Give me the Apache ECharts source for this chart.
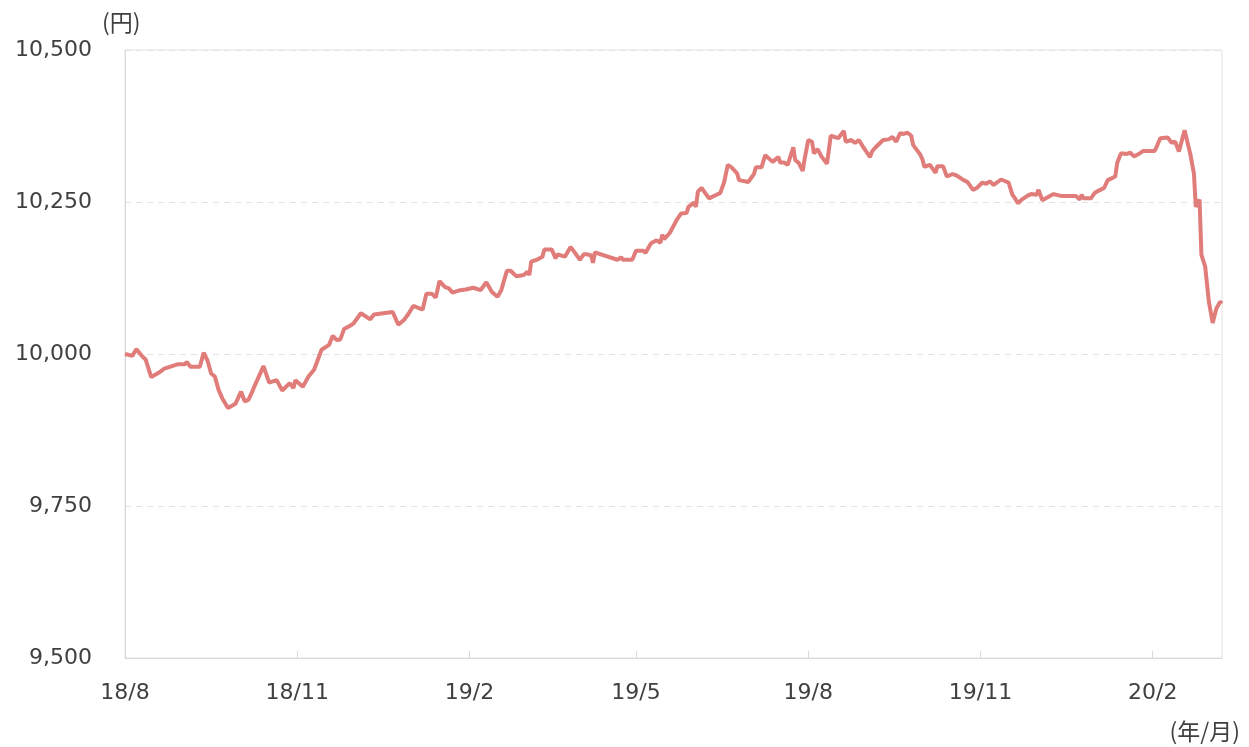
<!DOCTYPE html>
<html>
<head>
<meta charset="utf-8">
<script src="https://cdn.jsdelivr.net/npm/echarts@6/dist/echarts.min.js"></script>
<style>
  html, body { margin: 0; padding: 0; background: #fff; }
  #chart { width: 1249px; height: 747px; }
</style>
</head>
<body>
<div id="chart"></div>
<script>
// 基準価額（円）
const dates = [
  '2018-08-01','2018-08-05','2018-08-07','2018-08-10','2018-08-12','2018-08-15','2018-08-19','2018-08-22','2018-08-29',
  '2018-09-02','2018-09-03','2018-09-05','2018-09-10','2018-09-12','2018-09-14','2018-09-16','2018-09-18','2018-09-20',
  '2018-09-22','2018-09-25','2018-09-29','2018-10-02','2018-10-04','2018-10-06','2018-10-08','2018-10-09','2018-10-14',
  '2018-10-17','2018-10-21','2018-10-24','2018-10-28','2018-10-30','2018-10-31','2018-11-04','2018-11-07','2018-11-10',
  '2018-11-14','2018-11-18','2018-11-20','2018-11-22','2018-11-24','2018-11-26','2018-11-29','2018-12-01','2018-12-05',
  '2018-12-10','2018-12-12','2018-12-22','2018-12-25','2018-12-28','2018-12-30','2019-01-02','2019-01-07','2019-01-09',
  '2019-01-12','2019-01-14','2019-01-16','2019-01-19','2019-01-21','2019-01-23','2019-01-27','2019-01-30','2019-02-03',
  '2019-02-07','2019-02-10','2019-02-13','2019-02-16','2019-02-18','2019-02-21','2019-02-23','2019-02-26','2019-03-02',
  '2019-03-04','2019-03-05','2019-03-06','2019-03-09','2019-03-12','2019-03-13','2019-03-17','2019-03-19','2019-03-20',
  '2019-03-24','2019-03-27','2019-03-29','2019-04-01','2019-04-03','2019-04-05','2019-04-07','2019-04-08','2019-04-09',
  '2019-04-21','2019-04-23','2019-04-24','2019-04-29','2019-05-01','2019-05-05','2019-05-06','2019-05-09','2019-05-12',
  '2019-05-14','2019-05-15','2019-05-16','2019-05-19','2019-05-23','2019-05-25','2019-05-28','2019-05-29','2019-06-01',
  '2019-06-02','2019-06-03','2019-06-05','2019-06-09','2019-06-13','2019-06-15','2019-06-17','2019-06-19','2019-06-21',
  '2019-06-24','2019-06-25','2019-06-30','2019-07-03','2019-07-04','2019-07-07','2019-07-09','2019-07-13','2019-07-16',
  '2019-07-17','2019-07-19','2019-07-21','2019-07-22','2019-07-24','2019-07-25','2019-07-27','2019-07-29','2019-07-30',
  '2019-08-01','2019-08-03','2019-08-04','2019-08-06','2019-08-08','2019-08-11','2019-08-13','2019-08-17','2019-08-20',
  '2019-08-21','2019-08-24','2019-08-26','2019-08-28','2019-08-30','2019-09-03','2019-09-04','2019-09-06','2019-09-10',
  '2019-09-13','2019-09-15','2019-09-17','2019-09-19','2019-09-21','2019-09-23','2019-09-25','2019-09-26','2019-09-30',
  '2019-10-01','2019-10-02','2019-10-05','2019-10-08','2019-10-09','2019-10-12','2019-10-14','2019-10-17','2019-10-19',
  '2019-10-23','2019-10-25','2019-10-28','2019-10-30','2019-11-02','2019-11-04','2019-11-06','2019-11-08','2019-11-12',
  '2019-11-16','2019-11-18','2019-11-19','2019-11-21','2019-11-23','2019-11-26','2019-11-28','2019-12-01','2019-12-02',
  '2019-12-04','2019-12-10','2019-12-14','2019-12-22','2019-12-24','2019-12-25','2019-12-26','2019-12-30','2020-01-01',
  '2020-01-04','2020-01-06','2020-01-08','2020-01-12','2020-01-13','2020-01-15','2020-01-18','2020-01-20','2020-01-22',
  '2020-01-24','2020-01-27','2020-01-29','2020-02-02','2020-02-03','2020-02-05','2020-02-09','2020-02-11','2020-02-13',
  '2020-02-15','2020-02-18','2020-02-21','2020-02-23','2020-02-24','2020-02-25','2020-02-26','2020-02-27','2020-02-29',
  '2020-03-02','2020-03-04','2020-03-06','2020-03-08','2020-03-09'
];
const values = [
  10000, 9997, 10008, 9997, 9991, 9962, 9969, 9976, 9983,
  9983, 9987, 9979, 9979, 10002, 9990, 9968, 9963, 9941,
  9927, 9911, 9918, 9938, 9922, 9925, 9938, 9946, 9980,
  9953, 9957, 9940, 9952, 9944, 9957, 9946, 9963, 9974,
  10007, 10015, 10030, 10023, 10024, 10041, 10046, 10050, 10067,
  10057, 10065, 10069, 10048, 10056, 10064, 10079, 10073, 10099,
  10099, 10093, 10120, 10110, 10108, 10101, 10105, 10106, 10109,
  10105, 10118, 10102, 10094, 10105, 10137, 10137, 10128, 10130,
  10135, 10130, 10152, 10155, 10160, 10172, 10172, 10157, 10164,
  10160, 10176, 10168, 10155, 10164, 10164, 10162, 10150, 10167,
  10155, 10159, 10155, 10155, 10170, 10170, 10166, 10182, 10187,
  10183, 10196, 10189, 10199, 10222, 10231, 10232, 10242, 10249,
  10242, 10267, 10273, 10256, 10262, 10265, 10282, 10311, 10307,
  10297, 10286, 10283, 10296, 10307, 10307, 10327, 10316, 10324,
  10315, 10315, 10311, 10314, 10340, 10319, 10314, 10301, 10320,
  10352, 10349, 10330, 10337, 10325, 10313, 10359, 10355, 10367,
  10349, 10352, 10347, 10352, 10342, 10324, 10333, 10340, 10352,
  10353, 10357, 10349, 10363, 10362, 10364, 10359, 10344, 10327,
  10320, 10308, 10311, 10298, 10309, 10309, 10292, 10296, 10294,
  10286, 10283, 10270, 10273, 10282, 10280, 10284, 10278, 10287,
  10282, 10262, 10258, 10248, 10254, 10260, 10263, 10262, 10270,
  10253, 10263, 10260, 10260, 10254, 10262, 10256, 10256, 10265,
  10270, 10273, 10286, 10292, 10314, 10330, 10329, 10331, 10325,
  10328, 10334, 10334, 10334, 10340, 10355, 10356, 10348, 10349,
  10333, 10368, 10330, 10297, 10242, 10240, 10254, 10163, 10144,
  10086, 10051, 10075, 10086, 10083
];
const tickDates = ['2018-08-01','2018-11-01','2019-02-01','2019-05-01','2019-08-01','2019-11-01','2020-02-01'];
const firstDate = '2018-08-01';
const lastDate = '2020-03-09';

function toTime(s) {
  const p = s.split('-');
  return new Date(+p[0], +p[1] - 1, +p[2]).getTime();
}

const font = 'DejaVu Sans, Verdana, sans-serif';
const unitFont = '"Noto Sans CJK JP", sans-serif';
const textColor = '#404040';
const gridColor = '#e3e3e3';
const ticks = tickDates.map(toTime);

const chart = echarts.init(document.getElementById('chart'));
chart.setOption({
  animation: false,
  grid: {
    left: 125, right: 27, top: 50, bottom: 89,
    show: true, borderColor: gridColor, borderWidth: 1
  },
  xAxis: {
    type: 'value',
    min: toTime(firstDate),
    max: toTime(lastDate),
    axisLine: { lineStyle: { color: '#d9d9d9', width: 1 } },
    axisTick: { show: true, inside: true, length: 7, customValues: ticks, lineStyle: { color: '#d9d9d9' } },
    axisLabel: {
      customValues: ticks,
      margin: 24,
      color: textColor,
      fontFamily: font,
      fontSize: 22,
      formatter: function (v) {
        const d = new Date(v);
        return (d.getFullYear() % 100) + '/' + (d.getMonth() + 1);
      }
    },
    splitLine: { show: false }
  },
  yAxis: {
    type: 'value',
    min: 9500,
    max: 10500,
    interval: 250,
    axisLine: { show: true, lineStyle: { color: '#d9d9d9', width: 1 } },
    axisTick: { show: false },
    axisLabel: {
      margin: 33,
      color: textColor,
      fontFamily: font,
      fontSize: 22,
      formatter: function (v) { return v.toLocaleString('en-US'); }
    },
    splitLine: { show: true, lineStyle: { color: gridColor, type: [6, 5], width: 1 } }
  },
  graphic: [
    { type: 'text', left: 102, top: 11, style: { text: '(円)', fill: textColor, font: '23px ' + unitFont } },
    { type: 'text', right: 9, top: 720, style: { text: '(年/月)', fill: textColor, font: '23px ' + unitFont } }
  ],
  series: [{
    type: 'line',
    data: dates.map(function (d, i) { return [toTime(d), values[i]]; }),
    showSymbol: false,
    lineStyle: { color: '#e07c79', width: 4 },
    itemStyle: { color: '#e07c79' }
  }]
});
</script>
</body>
</html>
